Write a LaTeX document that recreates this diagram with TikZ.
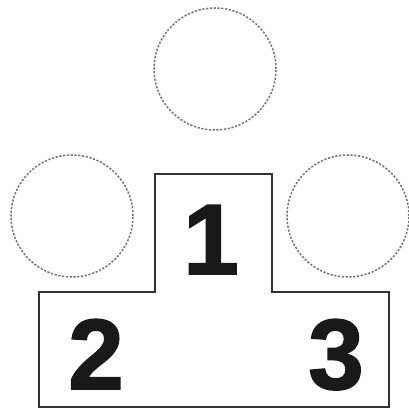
\documentclass[tikz,border=0pt]{standalone}
\usepackage{fontspec}
\setmainfont{Liberation Sans}
\newfontfamily\podiumfont[FakeBold=1.6]{Liberation Sans Bold}
\usepackage{tikz}
\usetikzlibrary{positioning}
\tikzset{
  spot/.style={circle, draw=black!55, line width=1.5pt, dash pattern=on 2.2pt off 1.6pt, minimum size=122pt, inner sep=0pt},
  place/.style={anchor=base, inner sep=0pt, font=\fontsize{100}{100}\podiumfont, text=black!90},
  stand/.style={draw=black!80, line width=1.6pt, line join=miter},
}
\begin{document}
\begin{tikzpicture}[x=1pt, y=1pt]
\useasboundingbox (0,0) rectangle (409,409);
% empty spots for the winners
\node[spot] (top) at (215,340){};
\node[spot] (left) at (72,193){};
\node[spot] (right) at (348,193){};
% podium
\draw[stand] (39,2) -- (39,117) -- (155,117) -- (155,235) -- (272,235) -- (272,117) -- (389,117) -- (389,2) -- cycle;
\node[place] (first) at (211,135){1};
\node[place] (second) at (96,20){2};
\node[place] (third) at (336,20){3};
\end{tikzpicture}
\end{document}
